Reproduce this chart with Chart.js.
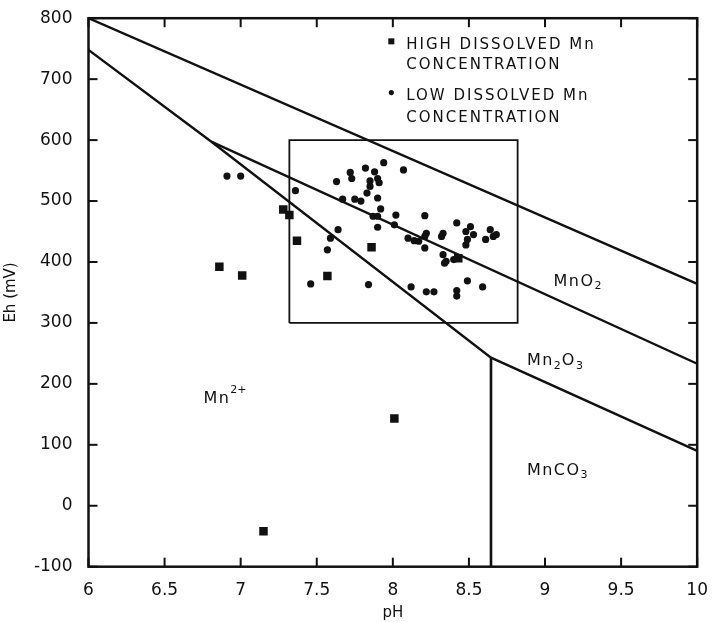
<!DOCTYPE html>
<html>
<head>
<meta charset="utf-8">
<title>Eh-pH diagram, Mn</title>
<script src="https://cdn.jsdelivr.net/npm/chart.js@4.4.1/dist/chart.umd.min.js"></script>
<style>
  html, body { margin: 0; padding: 0; background: #fff; }
  canvas { display: block; }
</style>
</head>
<body>
<canvas id="ehph" width="714" height="622"></canvas>
<script>
// axis ticks
const phTicks = [6, 6.5, 7, 7.5, 8, 8.5, 9, 9.5, 10];
const phLabels = ['6', '6.5', '7', '7.5', '8', '8.5', '9', '9.5', '10'];
const ehTicks = [-100, 0, 100, 200, 300, 400, 500, 600, 700, 800];
const ehLabels = ['-100', '0', '100', '200', '300', '400', '500', '600', '700', '800'];

// samples with high dissolved Mn (squares)
const highMnPH = [6.86, 7.01, 7.28, 7.32, 7.37, 7.57, 7.86, 8.01, 7.15, 8.43];
const highMnEh = [392, 378, 486, 477, 435, 377, 424, 143, -42, 406];

// samples with low dissolved Mn (dots)
const lowMnPH = [
  6.91, 7.00, 7.36, 7.63, 7.72, 7.73, 7.82, 7.88, 7.90, 7.85,
  7.91, 7.85, 7.83, 7.94, 8.07, 7.67, 7.75, 7.79, 7.90, 7.92,
  8.02, 7.87, 7.90, 7.90, 8.01, 7.64, 8.21, 8.42, 8.51, 8.64,
  8.33, 8.22, 8.10, 8.14, 8.21, 8.21, 8.32, 8.33, 8.34, 8.40,
  8.49, 8.53, 8.48, 8.61, 8.68, 8.48, 8.17, 8.35, 8.12, 8.22,
  8.27, 8.42, 8.42, 8.49, 8.59, 7.59, 7.57, 7.46, 7.84, 8.66
];
const lowMnEh = [
  541, 541, 517, 532, 547, 537, 554, 548, 537, 533,
  530, 524, 513, 563, 551, 503, 503, 500, 505, 487,
  477, 475, 475, 457, 461, 453, 476, 464, 458, 453,
  447, 447, 439, 435, 442, 423, 442, 412, 398, 404,
  437, 445, 428, 437, 445, 450, 434, 401, 359, 351,
  351, 353, 344, 369, 359, 439, 420, 364, 363, 442
];

// stability field boundaries
const mnO2TopPH = [6, 10];
const mnO2TopEh = [800, 364];
const mnO2BasePH = [6.81, 10];
const mnO2BaseEh = [597, 233];
const mn2PlusPH = [6, 6.81, 8.645, 10];
const mn2PlusEh = [748, 597, 243, 90];
const carbonatePH = [8.645, 8.645];
const carbonateEh = [-100, 243];

// box around the bulk of the samples
const boxPH = [7.32, 8.82, 8.82, 7.32, 7.32];
const boxEh = [300, 300, 600, 600, 300];

const zip = (xs, ys) => xs.map((v, i) => ({ x: v, y: ys[i] }));
const ink = '#111';
const FONT = '"DejaVu Sans", sans-serif';
const TICK = 9;

function boundary(xs, ys, width) {
  return {
    data: zip(xs, ys),
    showLine: true,
    borderColor: ink,
    borderWidth: width,
    pointRadius: 0,
    fill: false,
    tension: 0
  };
}

// chemical names: [text, 'sub' | 'sup' | '']
const fieldLabels = [
  { pH: 9.056, eh: 368, parts: [['Mn', ''], ['O', ''], ['2', 'sub']] },
  { pH: 8.881, eh: 238, parts: [['Mn', ''], ['2', 'sub'], ['O', ''], ['3', 'sub']] },
  { pH: 8.881, eh: 58, parts: [['Mn', ''], ['CO', ''], ['3', 'sub']] },
  { pH: 6.755, eh: 176, parts: [['Mn', ''], ['2+', 'sup']] }
];

function drawChem(ctx, parts, x, y) {
  let cx = x;
  parts.forEach(([t, kind]) => {
    if (kind) {
      ctx.font = '11px ' + FONT;
      ctx.letterSpacing = '0px';
      ctx.fillText(t, cx, kind === 'sub' ? y + 5 : y - 8);
      cx += ctx.measureText(t).width + 1;
    } else {
      ctx.font = '16px ' + FONT;
      ctx.letterSpacing = '1.5px';
      ctx.fillText(t, cx, y);
      cx += ctx.measureText(t).width;
    }
  });
}

const annotate = {
  id: 'annotate',
  afterDraw(chart) {
    const { ctx, chartArea: a, scales: { x, y } } = chart;
    ctx.save();
    ctx.strokeStyle = ink;
    ctx.fillStyle = ink;

    // frame
    ctx.lineWidth = 2.5;
    ctx.strokeRect(a.left, a.top, a.right - a.left, a.bottom - a.top);

    // inward ticks on all four sides
    for (let i = 0; i < phTicks.length; i++) {
      const px = x.getPixelForValue(phTicks[i]);
      ctx.fillRect(px - 1, a.bottom - TICK, 2, TICK);
      ctx.fillRect(px - 1, a.top, 2, TICK);
    }
    for (let i = 0; i < ehTicks.length; i++) {
      const py = y.getPixelForValue(ehTicks[i]);
      ctx.fillRect(a.left, py - 1, TICK, 2);
      ctx.fillRect(a.right - TICK, py - 1, TICK, 2);
    }

    // field names
    ctx.textBaseline = 'middle';
    ctx.textAlign = 'left';
    fieldLabels.forEach(f => {
      drawChem(ctx, f.parts, x.getPixelForValue(f.pH), y.getPixelForValue(f.eh));
    });

    // key
    const kx = x.getPixelForValue(7.99);
    const tx = x.getPixelForValue(8.088);
    ctx.fillRect(kx - 3, y.getPixelForValue(762) - 3, 6, 6);
    ctx.beginPath();
    ctx.arc(kx, y.getPixelForValue(678), 2.6, 0, Math.PI * 2);
    ctx.fill();
    ctx.font = '15px ' + FONT;
    ctx.letterSpacing = '2px';
    ctx.fillText('HIGH DISSOLVED Mn', tx, y.getPixelForValue(756));
    ctx.fillText('CONCENTRATION', tx, y.getPixelForValue(723.5));
    ctx.fillText('LOW DISSOLVED Mn', tx, y.getPixelForValue(672));
    ctx.fillText('CONCENTRATION', tx, y.getPixelForValue(636));
    ctx.restore();
  }
};

new Chart(document.getElementById('ehph'), {
  type: 'scatter',
  data: {
    datasets: [
      boundary(mnO2TopPH, mnO2TopEh, 2.4),
      boundary(mnO2BasePH, mnO2BaseEh, 2.4),
      boundary(mn2PlusPH, mn2PlusEh, 2.4),
      boundary(carbonatePH, carbonateEh, 2.6),
      boundary(boxPH, boxEh, 1.8),
      {
        data: zip(highMnPH, highMnEh),
        pointStyle: 'rect',
        pointRadius: 6,
        backgroundColor: ink,
        borderColor: ink,
        borderWidth: 0
      },
      {
        data: zip(lowMnPH, lowMnEh),
        pointStyle: 'circle',
        pointRadius: 3.6,
        backgroundColor: ink,
        borderColor: ink,
        borderWidth: 0
      }
    ]
  },
  options: {
    responsive: false,
    animation: false,
    devicePixelRatio: 1,
    layout: { padding: { top: 16, right: 8, left: 0, bottom: 0 } },
    plugins: { legend: { display: false }, tooltip: { enabled: false } },
    scales: {
      x: {
        type: 'linear',
        min: 6,
        max: 10,
        afterBuildTicks: s => { s.ticks = phTicks.map(v => ({ value: v })); },
        afterFit: s => { s.height = 55.3; },
        grid: { display: false },
        border: { display: false },
        ticks: {
          color: ink,
          padding: 6,
          maxRotation: 0,
          font: { family: FONT, size: 17 },
          callback: v => phLabels[phTicks.indexOf(v)]
        },
        title: {
          display: true,
          text: 'pH',
          color: ink,
          padding: { top: 0, bottom: 0 },
          font: { family: FONT, size: 15 }
        }
      },
      y: {
        type: 'linear',
        min: -100,
        max: 800,
        afterBuildTicks: s => { s.ticks = ehTicks.map(v => ({ value: v })); },
        afterFit: s => { s.width = 88.5; },
        grid: { display: false },
        border: { display: false },
        ticks: {
          color: ink,
          padding: 8,
          font: { family: FONT, size: 17 },
          callback: v => ehLabels[ehTicks.indexOf(v)]
        },
        title: {
          display: true,
          text: 'Eh (mV)',
          color: ink,
          padding: { top: 2, bottom: 0 },
          font: { family: FONT, size: 15 }
        }
      }
    }
  },
  plugins: [annotate]
});
</script>
</body>
</html>
